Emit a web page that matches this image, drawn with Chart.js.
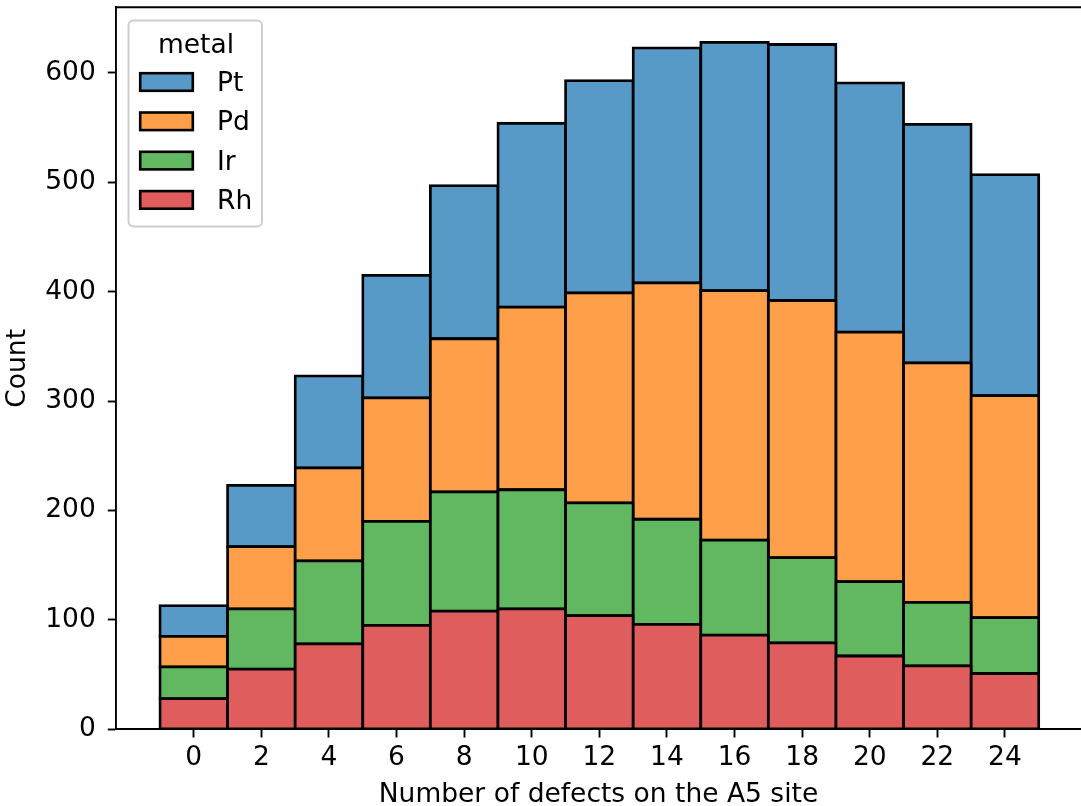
<!DOCTYPE html>
<html>
<head>
<meta charset="utf-8">
<script src="https://cdn.jsdelivr.net/npm/chart.js@4.4.0/dist/chart.umd.min.js"></script>
<style>
  html, body { margin: 0; padding: 0; background: #fff; overflow: hidden; }
  canvas { display: block; }
</style>
</head>
<body>
<canvas id="defectsChart" width="1081" height="806"></canvas>
<script>
// bin centres (each bin is 2 wide) and counts per metal
const binCenters = [0, 2, 4, 6, 8, 10, 12, 14, 16, 18, 20, 22, 24];
const rhCounts = [28, 55, 78, 95, 108, 110, 104, 96, 86, 79, 67, 58, 51];
const irCounts = [29, 55, 76, 95, 109, 109, 103, 96, 87, 78, 68, 58, 51];
const pdCounts = [28, 57, 85, 113, 140, 167, 192, 216, 228, 235, 228, 219, 203];
const ptCounts = [28, 56, 84, 112, 140, 168, 194, 215, 227, 234, 228, 218, 202];
const xTicks = [0, 2, 4, 6, 8, 10, 12, 14, 16, 18, 20, 22, 24];
const yTicks = [0, 100, 200, 300, 400, 500, 600];
const legendTitle = "metal";

const FONT = "'DejaVu Sans'";
const FONT_SIZE = 26.5;
Chart.defaults.font.family = FONT;
Chart.defaults.font.size = FONT_SIZE;
Chart.defaults.color = "#000";

function series(label, counts, color) {
  return {
    label: label,
    data: binCenters.map((x, i) => ({ x: x, y: counts[i] })),
    backgroundColor: color,
    borderColor: "#000",
    borderWidth: 2.8,
    inflateAmount: 1.4,
    borderSkipped: false,
    barPercentage: 1,
    categoryPercentage: 1,
  };
}

// top spine (the right one is off the picture)
const topSpine = {
  id: "topSpine",
  afterDraw(chart) {
    const { ctx, chartArea } = chart;
    ctx.save();
    ctx.strokeStyle = "#000";
    ctx.lineWidth = 1.9;
    ctx.beginPath();
    ctx.moveTo(chartArea.left - 1, chartArea.top);
    ctx.lineTo(chartArea.right, chartArea.top);
    ctx.stroke();
    ctx.restore();
  },
};

// seaborn-like legend box in the upper left
const legendBox = {
  id: "legendBox",
  afterDraw(chart) {
    const ctx = chart.ctx;
    const sets = chart.data.datasets.slice().reverse();
    ctx.save();
    ctx.beginPath();
    ctx.roundRect(128.5, 20.5, 133.5, 206, 5);
    ctx.fillStyle = "rgba(255,255,255,0.8)";
    ctx.fill();
    ctx.strokeStyle = "#cccccc";
    ctx.lineWidth = 1.9;
    ctx.stroke();

    ctx.font = FONT_SIZE + "px " + FONT;
    ctx.fillStyle = "#000";
    ctx.textAlign = "center";
    ctx.textBaseline = "alphabetic";
    ctx.fillText(legendTitle, 196, 53);

    ctx.textAlign = "left";
    sets.forEach((ds, i) => {
      const y = 82 + i * 39.3;
      ctx.fillStyle = ds.backgroundColor;
      ctx.fillRect(140.2, y - 8.8, 52.6, 17.6);
      ctx.strokeStyle = "#000";
      ctx.lineWidth = 2.6;
      ctx.strokeRect(140.2, y - 8.8, 52.6, 17.6);
      ctx.fillStyle = "#000";
      ctx.fillText(ds.label, 217, y + 9);
    });
    ctx.restore();
  },
};

new Chart(document.getElementById("defectsChart"), {
  type: "bar",
  data: {
    datasets: [
      series("Rh", rhCounts, "#e05d5e"),
      series("Ir", irCounts, "#61b861"),
      series("Pd", pdCounts, "#ff9f4a"),
      series("Pt", ptCounts, "#5799c7"),
    ],
  },
  options: {
    responsive: false,
    animation: false,
    layout: { padding: { top: 7.3, left: 0, right: 0, bottom: 0 } },
    plugins: {
      legend: { display: false },
      tooltip: { enabled: false },
    },
    scales: {
      x: {
        type: "linear",
        stacked: true,
        offset: false,
        min: -2.3,
        max: 26.25,
        afterBuildTicks: (scale) => {
          scale.ticks = xTicks.map((v) => ({ value: v }));
        },
        afterFit: (scale) => {
          scale.height = 76.7;
          scale.paddingLeft = 0;
          scale.paddingRight = 0;
        },
        ticks: {
          padding: 5,
          maxRotation: 0,
          autoSkip: false,
          callback: (v) => String(v),
        },
        grid: {
          offset: false,
          drawOnChartArea: false,
          drawTicks: true,
          tickLength: 8.2,
          tickWidth: 1.9,
          tickColor: "#000",
        },
        border: { display: true, color: "#000", width: 1.9 },
        title: {
          display: true,
          text: "Number of defects on the A5 site",
          padding: { top: 0, bottom: -5 },
        },
      },
      y: {
        stacked: true,
        min: 0,
        max: 660,
        afterBuildTicks: (scale) => {
          scale.ticks = yTicks.map((v) => ({ value: v }));
        },
        afterFit: (scale) => {
          scale.width = 116;
          scale.paddingTop = 0;
          scale.paddingBottom = 0;
        },
        ticks: {
          padding: 12,
          autoSkip: false,
          callback: (v) => String(v),
        },
        grid: {
          drawOnChartArea: false,
          drawTicks: true,
          tickLength: 8.2,
          tickWidth: 1.9,
          tickColor: "#000",
        },
        border: { display: true, color: "#000", width: 1.9 },
        title: {
          display: true,
          text: "Count",
          padding: { top: 2, bottom: 4 },
        },
      },
    },
  },
  plugins: [topSpine, legendBox],
});
</script>
</body>
</html>
